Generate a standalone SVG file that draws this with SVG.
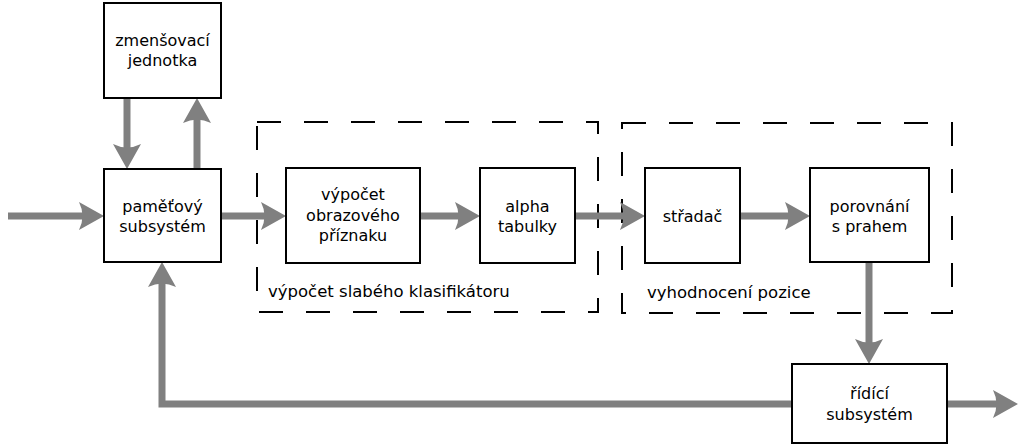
<svg xmlns="http://www.w3.org/2000/svg" width="1019" height="446" viewBox="0 0 1019 446">
  <style>
    .box { fill: #ffffff; stroke: #000000; stroke-width: 2; }
    .group { fill: none; stroke: #000000; stroke-width: 2; stroke-dasharray: 24 23; }
    .wire { fill: none; stroke: #808080; stroke-width: 7; }
    text { font-family: "DejaVu Sans", "Liberation Sans", sans-serif; font-size: 16px; fill: #000000; }
    .label { font-size: 16.5px; }
    .c { text-anchor: middle; }
  </style>
  <defs>
    <marker id="head" markerUnits="userSpaceOnUse" viewBox="-26 -15 27 30" refX="-19" refY="0" markerWidth="27" markerHeight="30" orient="auto" overflow="visible">
      <path d="M0,0 L-25,-14 Q-18,0 -25,14 Z" fill="#808080"/>
    </marker>
  </defs>

  <rect width="1019" height="446" fill="#ffffff"/>

  <!-- dashed grouping frames -->
  <g id="frame-classifier">
    <rect class="group" x="257" y="122" width="341" height="190"/>
    <text class="label" x="268" y="297">výpočet slabého klasifikátoru</text>
  </g>
  <g id="frame-position">
    <rect class="group" x="622" y="123" width="330" height="190"/>
    <text class="label" x="647" y="298">vyhodnocení pozice</text>
  </g>

  <!-- connectors -->
  <g id="connectors">
    <line class="wire" x1="8" y1="216" x2="85" y2="216" marker-end="url(#head)"/>
    <line class="wire" x1="221" y1="216" x2="267" y2="216" marker-end="url(#head)"/>
    <line class="wire" x1="420" y1="216" x2="461" y2="216" marker-end="url(#head)"/>
    <line class="wire" x1="575" y1="216" x2="626" y2="216" marker-end="url(#head)"/>
    <line class="wire" x1="740" y1="216" x2="791" y2="216" marker-end="url(#head)"/>
    <line class="wire" x1="869" y1="262" x2="869" y2="345" marker-end="url(#head)"/>
    <line class="wire" x1="947" y1="404" x2="999" y2="404" marker-end="url(#head)"/>
    <polyline class="wire" points="792,404 162,404 162,281" marker-end="url(#head)"/>
    <line class="wire" x1="127" y1="98" x2="127" y2="150" marker-end="url(#head)"/>
    <line class="wire" x1="197" y1="169" x2="197" y2="117" marker-end="url(#head)"/>
  </g>

  <!-- blocks -->
  <g id="scaler">
    <rect class="box" x="104" y="3" width="117" height="95"/>
    <text class="c" x="162.5" y="46">zmenšovací</text>
    <text class="c" x="162.5" y="66">jednotka</text>
  </g>
  <g id="memory">
    <rect class="box" x="104" y="169" width="117" height="93"/>
    <text class="c" x="162.5" y="212">paměťový</text>
    <text class="c" x="162.5" y="232">subsystém</text>
  </g>
  <g id="feature">
    <rect class="box" x="286" y="168" width="134" height="95"/>
    <text class="c" x="353" y="200">výpočet</text>
    <text class="c" x="353" y="220.5">obrazového</text>
    <text class="c" x="353" y="241">příznaku</text>
  </g>
  <g id="alpha">
    <rect class="box" x="480" y="168" width="95" height="95"/>
    <text class="c" x="527.5" y="211.5">alpha</text>
    <text class="c" x="527.5" y="231.5">tabulky</text>
  </g>
  <g id="accumulator">
    <rect class="box" x="645" y="168" width="95" height="95"/>
    <text class="c" x="692.5" y="221.5">střadač</text>
  </g>
  <g id="threshold">
    <rect class="box" x="810" y="168" width="119" height="94"/>
    <text class="c" x="869.5" y="211.5">porovnání</text>
    <text class="c" x="869.5" y="231.5">s prahem</text>
  </g>
  <g id="control">
    <rect class="box" x="792" y="364" width="155" height="79"/>
    <text class="c" x="869.5" y="399">řídící</text>
    <text class="c" x="869.5" y="420">subsystém</text>
  </g>
</svg>
